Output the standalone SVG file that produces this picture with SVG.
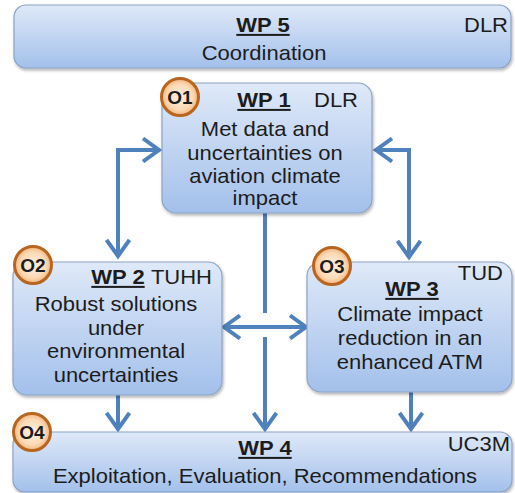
<svg xmlns="http://www.w3.org/2000/svg" width="515" height="493" viewBox="0 0 515 493">
<defs>
<linearGradient id="boxg" x1="0" y1="0" x2="0" y2="1">
<stop offset="0" stop-color="#dfe9f8"/>
<stop offset="1" stop-color="#a3c0eb"/>
</linearGradient>
<radialGradient id="circg" cx="0.5" cy="0.5" r="0.5">
<stop offset="0" stop-color="#fdf0e2"/>
<stop offset="0.7" stop-color="#fbd9b4"/>
<stop offset="1" stop-color="#f2b27a"/>
</radialGradient>
<filter id="sh" x="-5%" y="-5%" width="110%" height="115%">
<feDropShadow dx="1" dy="2" stdDeviation="1.5" flood-color="#000" flood-opacity="0.3"/>
</filter>
<marker id="ah" viewBox="0 0 26 26" refX="20" refY="13" markerWidth="26" markerHeight="26" markerUnits="userSpaceOnUse" orient="auto-start-reverse">
<path d="M4,1.5 L20,13 L4,24.5" fill="none" stroke="#4f81bd" stroke-width="4" stroke-linejoin="miter"/>
</marker>
</defs>
<style>
.box{fill:url(#boxg);stroke:#8ca3c6;stroke-width:1.2;filter:url(#sh)}
.t{font-family:"Liberation Sans",Arial,sans-serif;font-size:20px;fill:#1c1c1c;text-anchor:middle}
.h{font-weight:bold;text-decoration:underline}
.r{text-anchor:end}
.c{fill:url(#circg);stroke:#b8661f;stroke-width:3}
.ct{font-family:"Liberation Sans",Arial,sans-serif;font-size:19px;font-weight:bold;fill:#1c1c1c;text-anchor:middle}
.con{fill:none;stroke:#4f81bd;stroke-width:4}
</style>
<g id="connectors">
<path class="con" d="M118,256 L118,150 L159,150" marker-start="url(#ah)" marker-end="url(#ah)"/>
<path class="con" d="M376,150 L409,150 L409,257" marker-start="url(#ah)" marker-end="url(#ah)"/>
<path class="con" d="M265,213 L265,313"/>
<path class="con" d="M265,337 L265,429" marker-end="url(#ah)"/>
<path class="con" d="M224,327 L306,327" marker-start="url(#ah)" marker-end="url(#ah)"/>
<path class="con" d="M118,395 L118,429" marker-end="url(#ah)"/>
<path class="con" d="M411,392 L411,429" marker-end="url(#ah)"/>
</g>
<g id="wp5">
<rect class="box" x="14" y="5" width="497" height="63" rx="12"/>
<text class="t h" transform="translate(263,32) scale(1.1,1)">WP 5</text>
<text class="t" transform="translate(264,60) scale(1.1,1)">Coordination</text>
<text class="t r" transform="translate(508,32) scale(1.1,1)">DLR</text>
</g>
<g id="wp1">
<rect class="box" x="162" y="83" width="210" height="130" rx="14"/>
<text class="t h" transform="translate(264,107) scale(1.1,1)">WP 1</text>
<text class="t r" transform="translate(358,107) scale(1.1,1)">DLR</text>
<text class="t" transform="translate(265,136) scale(1.1,1)">Met data and</text>
<text class="t" transform="translate(265,160) scale(1.1,1)">uncertainties on</text>
<text class="t" transform="translate(265,183) scale(1.1,1)">aviation climate</text>
<text class="t" transform="translate(265,205) scale(1.1,1)">impact</text>
</g>
<g id="o1">
<circle class="c" cx="180" cy="97" r="18.5"/>
<text class="ct" x="180" y="104">O1</text>
</g>
<g id="wp2">
<rect class="box" x="13" y="262" width="209" height="133" rx="14"/>
<text class="t h" transform="translate(118,284) scale(1.1,1)">WP 2</text>
<text class="t r" transform="translate(212,284) scale(1.1,1)">TUHH</text>
<text class="t" transform="translate(116,311) scale(1.1,1)">Robust solutions</text>
<text class="t" transform="translate(116,335) scale(1.1,1)">under</text>
<text class="t" transform="translate(116,358) scale(1.1,1)">environmental</text>
<text class="t" transform="translate(116,382) scale(1.1,1)">uncertainties</text>
</g>
<g id="o2">
<circle class="c" cx="33" cy="265" r="18.5"/>
<text class="ct" x="33" y="272">O2</text>
</g>
<g id="wp3">
<rect class="box" x="307" y="262" width="205" height="130" rx="14"/>
<text class="t r" transform="translate(503,280) scale(1.1,1)">TUD</text>
<text class="t h" transform="translate(412,296) scale(1.1,1)">WP 3</text>
<text class="t" transform="translate(410,321) scale(1.1,1)">Climate impact</text>
<text class="t" transform="translate(410,345) scale(1.1,1)">reduction in an</text>
<text class="t" transform="translate(410,369) scale(1.1,1)">enhanced ATM</text>
</g>
<g id="o3">
<circle class="c" cx="332" cy="266" r="18.5"/>
<text class="ct" x="332" y="273">O3</text>
</g>
<g id="wp4">
<rect class="box" x="13" y="432" width="499" height="60" rx="12"/>
<text class="t h" transform="translate(265,455) scale(1.1,1)">WP 4</text>
<text class="t r" transform="translate(510,451) scale(1.1,1)">UC3M</text>
<text class="t" transform="translate(265,483) scale(1.1,1)">Exploitation, Evaluation, Recommendations</text>
</g>
<g id="o4">
<circle class="c" cx="32" cy="432" r="18.5"/>
<text class="ct" x="32" y="439">O4</text>
</g>
</svg>
